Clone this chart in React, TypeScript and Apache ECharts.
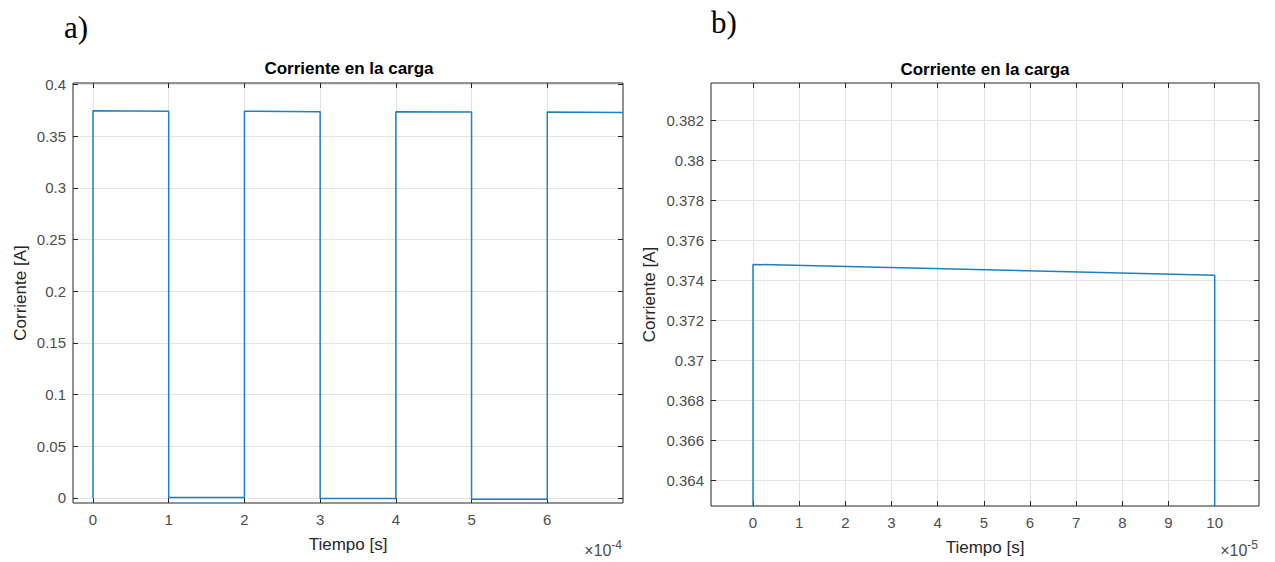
import React, { useEffect, useRef } from "react";
import * as echarts from "echarts";

// Panel a) time in units of 1e-4 s, current in A
const timeA = [0, 0, 1, 1, 2, 2, 3, 3, 4, 4, 5, 5, 6, 6, 7];
const currentA = [0, 0.3747, 0.3741, 0.0005, 0.0004, 0.3742, 0.3737, -0.0005, -0.0006, 0.3737, 0.3733, -0.0012, -0.0013, 0.3733, 0.3729];
const xTicksA = [0, 1, 2, 3, 4, 5, 6];
const yTicksA = [0, 0.05, 0.1, 0.15, 0.2, 0.25, 0.3, 0.35, 0.4];

// Panel b) time in units of 1e-5 s, current in A
const timeB = [0, 0, 10, 10];
const currentB = [0, 0.37478, 0.37424, 0.0005];
const xTicksB = [0, 1, 2, 3, 4, 5, 6, 7, 8, 9, 10];
const yTicksB = [0.364, 0.366, 0.368, 0.37, 0.372, 0.374, 0.376, 0.378, 0.38, 0.382];

const TITLE = "Corriente en la carga";
const XNAME = "Tiempo [s]";
const YNAME = "Corriente [A]";

const AX = "#262626";
const LBL = "#4d4d4d";
const GRID = "#e3e3e3";
const LINE = "#1f7fc4";
const FONT = "Liberation Sans, Arial, Helvetica, sans-serif";

const fmt = (v: number) => String(parseFloat(Number(v).toFixed(4)));

function xAxes(gridIndex: number, min: number, max: number, ticks: number[]) {
  const base = {
    type: "value" as const,
    gridIndex,
    min,
    max,
    axisLine: { show: false, onZero: false },
  };
  return [
    {
      ...base,
      position: "bottom",
      name: XNAME,
      nameLocation: "middle",
      nameGap: 33,
      nameTextStyle: { color: AX, fontSize: 17, fontFamily: FONT },
      axisTick: { show: true, inside: true, length: 5, customValues: ticks, lineStyle: { color: AX } },
      axisLabel: { show: true, customValues: ticks, color: LBL, fontSize: 15, fontFamily: FONT, margin: 9, formatter: fmt },
      splitLine: { show: true, lineStyle: { color: GRID, width: 1 } },
    },
    {
      ...base,
      position: "top",
      axisTick: { show: true, inside: true, length: 5, customValues: ticks, lineStyle: { color: AX } },
      axisLabel: { show: false, customValues: ticks },
      splitLine: { show: false },
    },
  ];
}

function yAxes(gridIndex: number, min: number, max: number, ticks: number[], gap: number) {
  const base = {
    type: "value" as const,
    gridIndex,
    min,
    max,
    axisLine: { show: false, onZero: false },
  };
  return [
    {
      ...base,
      position: "left",
      name: YNAME,
      nameLocation: "middle",
      nameGap: gap,
      nameTextStyle: { color: AX, fontSize: 17, fontFamily: FONT },
      axisTick: { show: true, inside: true, length: 5, customValues: ticks, lineStyle: { color: AX } },
      axisLabel: { show: true, customValues: ticks, color: LBL, fontSize: 15, fontFamily: FONT, margin: 7, formatter: fmt },
      splitLine: { show: true, lineStyle: { color: GRID, width: 1 } },
    },
    {
      ...base,
      position: "right",
      axisTick: { show: true, inside: true, length: 5, customValues: ticks, lineStyle: { color: AX } },
      axisLabel: { show: false, customValues: ticks },
      splitLine: { show: false },
    },
  ];
}

export default function App() {
  const ref = useRef<HTMLDivElement>(null);
  useEffect(() => {
    if (!ref.current) return;
    const chart = echarts.init(ref.current, undefined, { renderer: "svg" });
    const expo = (x: number, text: string) => ({
      type: "text",
      x,
      y: 550,
      style: {
        text: `{a|×10}{b|${text}}`,
        textAlign: "right",
        textVerticalAlign: "middle",
        rich: {
          a: { fontSize: 16, fill: LBL, fontFamily: FONT, color: LBL },
          b: { fontSize: 12, fill: LBL, fontFamily: FONT, color: LBL, verticalAlign: "top", padding: [0, 0, 10, 0] },
        },
      },
    });
    chart.setOption({
      animation: false,
      backgroundColor: "#ffffff",
      grid: [
        { left: 73, top: 83, width: 550, height: 420, show: true, borderColor: AX, borderWidth: 1, backgroundColor: "transparent" },
        { left: 711, top: 83, width: 548, height: 423, show: true, borderColor: AX, borderWidth: 1, backgroundColor: "transparent" },
      ],
      xAxis: [...xAxes(0, -0.264, 7, xTicksA), ...xAxes(1, -0.91, 10.96, xTicksB)],
      yAxis: [...yAxes(0, -0.00484, 0.40145, yTicksA, 44), ...yAxes(1, 0.3627, 0.38385, yTicksB, 53)],
      series: [
        {
          type: "line",
          xAxisIndex: 0,
          yAxisIndex: 0,
          data: timeA.map((t, i) => [t, currentA[i]]),
          showSymbol: false,
          symbol: "none",
          lineStyle: { color: LINE, width: 1.5 },
          clip: true,
        },
        {
          type: "line",
          xAxisIndex: 2,
          yAxisIndex: 2,
          data: timeB.map((t, i) => [t, currentB[i]]),
          showSymbol: false,
          symbol: "none",
          lineStyle: { color: LINE, width: 1.5 },
          clip: true,
        },
      ],
      graphic: [
        { type: "text", x: 349, y: 68, style: { text: TITLE, textAlign: "center", textVerticalAlign: "middle", font: `bold 17px ${FONT}`, fill: "#000" } },
        { type: "text", x: 985, y: 69, style: { text: TITLE, textAlign: "center", textVerticalAlign: "middle", font: `bold 17px ${FONT}`, fill: "#000" } },
        { type: "text", x: 64, y: 27, style: { text: "a)", textVerticalAlign: "middle", font: `31px "Liberation Serif", "Times New Roman", serif`, fill: "#000" } },
        { type: "text", x: 711, y: 22, style: { text: "b)", textVerticalAlign: "middle", font: `31px "Liberation Serif", "Times New Roman", serif`, fill: "#000" } },
        expo(622, "-4"),
        expo(1258, "-5"),
      ],
    });
    return () => chart.dispose();
  }, []);
  return <div ref={ref} style={{ position: "absolute", left: 0, top: 0, width: 1275, height: 562 }} />;
}
